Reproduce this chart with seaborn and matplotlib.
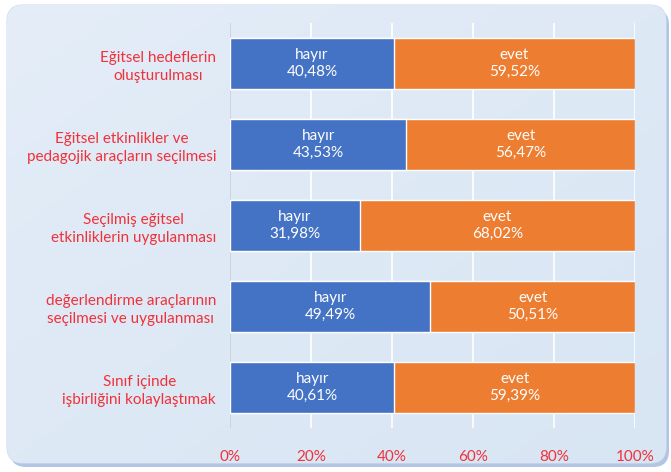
import matplotlib
matplotlib.use('Agg')
import numpy as np
import pandas as pd
import matplotlib.pyplot as plt
import seaborn as sns
from matplotlib.patches import FancyBboxPatch

# Veriler
categories = [
    'Eğitsel hedeflerin\noluşturulması',
    'Eğitsel etkinlikler ve\npedagojik araçların seçilmesi',
    'Seçilmiş eğitsel\netkinliklerin uygulanması',
    'değerlendirme araçlarının\nseçilmesi ve uygulanması',
    'Sınıf içinde\nişbirliğini kolaylaştımak',
]
hayir = [40.48, 43.53, 31.98, 49.49, 40.61]
evet = [59.52, 56.47, 68.02, 50.51, 59.39]
ticks = [0, 20, 40, 60, 80, 100]

BLUE = '#4472C4'
ORANGE = '#ED7D31'
RED = '#F0313A'

sns.set_style('white')
plt.rcParams['font.family'] = ['Lato', 'DejaVu Sans']

df = pd.DataFrame({'kategori': categories, 'hayir': hayir, 'evet': evet})
df['toplam'] = df['hayir'] + df['evet']

fig = plt.figure(figsize=(6.71, 4.72), dpi=100)
fig.patch.set_facecolor('white')

# Arka plan: yuvarlak köşeli, açık mavi degrade
bg = fig.add_axes([0, 0, 1, 1], zorder=-10)
bg.set_xlim(0, 671)
bg.set_ylim(472, 0)
bg.axis('off')
shadow = FancyBboxPatch((10, 9), 659, 458, boxstyle='round,pad=0,rounding_size=16',
                        fc='#b3c5e3', ec='none', transform=bg.transData)
bg.add_patch(shadow)
card = FancyBboxPatch((7, 5), 659, 458, boxstyle='round,pad=0,rounding_size=16',
                      fc='#dde8f5', ec='#d0dcef', lw=0.8, transform=bg.transData)
bg.add_patch(card)
gx, gy = np.meshgrid(np.linspace(0, 1, 200), np.linspace(0, 1, 200))
grad = 0.5 * gx + 0.5 * gy
cmap = matplotlib.colors.LinearSegmentedColormap.from_list('g', ['#e4edf8', '#d8e5f3'])
img = bg.imshow(grad, extent=[7, 666, 463, 5], cmap=cmap, aspect='auto', zorder=1)
img.set_clip_path(card)

ax = fig.add_axes([230 / 671, 44 / 472, 405 / 671, 405 / 472])
ax.set_facecolor('none')

sns.barplot(data=df, x='toplam', y='kategori', orient='h', color=ORANGE,
            width=0.64, saturation=1, ax=ax, zorder=3)
sns.barplot(data=df, x='hayir', y='kategori', orient='h', color=BLUE,
            width=0.64, saturation=1, ax=ax, zorder=3)

for i, (h, e) in enumerate(zip(hayir, evet)):
    ax.text(h / 2, i, 'hayır\n' + f'{h:.2f}%'.replace('.', ','), ha='center', va='center',
            color='white', fontsize=11, linespacing=1.3, zorder=5)
    ax.text(h + e / 2, i, 'evet\n' + f'{e:.2f}%'.replace('.', ','), ha='center', va='center',
            color='white', fontsize=11, linespacing=1.3, zorder=5)

ax.set_xlim(0, 100)
ax.set_ylim(4.5, -0.5)
ax.set_xticks(ticks)
ax.set_xticklabels([f'{t}%' for t in ticks], color=RED, fontsize=11)
ax.tick_params(axis='x', length=0, pad=16)
ax.tick_params(axis='y', length=0, pad=10)
for lbl in ax.get_yticklabels():
    lbl.set_color(RED)
    lbl.set_fontsize(11)
    lbl.set_linespacing(1.4)
    lbl.set_horizontalalignment('right')
    lbl.set_multialignment('center')
ax.set_xlabel('')
ax.set_ylabel('')
ax.grid(axis='x', color='white', lw=1.2, zorder=0)
ax.axvline(0, color='#c8ccd2', lw=1.2, zorder=1)
for s in ax.spines.values():
    s.set_visible(False)

fig.savefig('out.png', dpi=100)
